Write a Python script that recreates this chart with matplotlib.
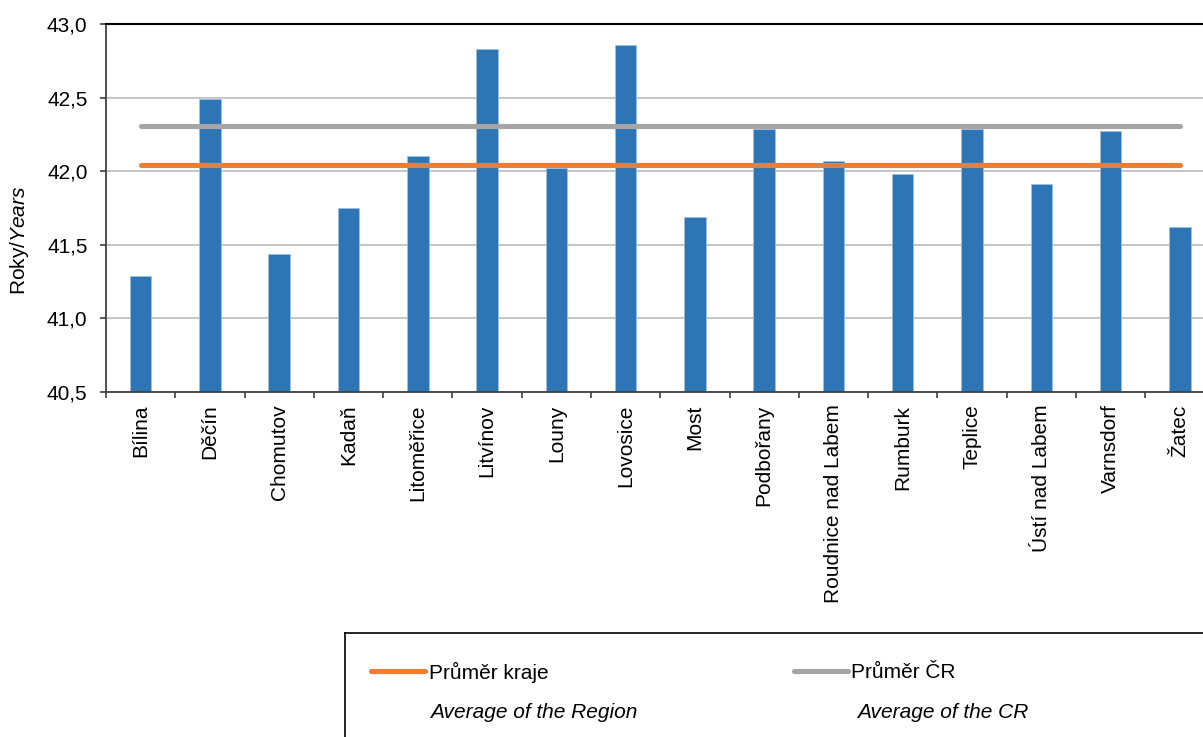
import matplotlib
matplotlib.use("Agg")
import matplotlib.pyplot as plt
from matplotlib.lines import Line2D
import numpy as np

plt.rcParams['font.family'] = ['Liberation Sans', 'DejaVu Sans']
plt.rcParams['mathtext.fontset'] = 'custom'
plt.rcParams['mathtext.rm'] = 'Liberation Sans'
plt.rcParams['mathtext.it'] = 'Liberation Sans:italic'

categories = ["Bílina", "Děčín", "Chomutov", "Kadaň", "Litoměřice", "Litvínov", "Louny",
              "Lovosice", "Most", "Podbořany", "Roudnice nad Labem", "Rumburk", "Teplice",
              "Ústí nad Labem", "Varnsdorf", "Žatec"]
values = [41.29, 42.49, 41.44, 41.75, 42.10, 42.83, 42.02, 42.86, 41.69, 42.29, 42.07,
          41.98, 42.29, 41.91, 42.27, 41.62]
region_avg = 42.04
cr_avg = 42.31
yticks = [40.5, 41.0, 41.5, 42.0, 42.5, 43.0]
ytick_labels = ["40,5", "41,0", "41,5", "42,0", "42,5", "43,0"]

FS = 15
W, H = 1203, 737
fig = plt.figure(figsize=(W / 100, H / 100), dpi=100)
L, R, T, B = 106, 1214.5, 24, 392
ax = fig.add_axes([L / W, 1 - B / H, (R - L) / W, (B - T) / H])

x = np.arange(len(categories))
ax.bar(x, values, width=0.31, bottom=0, color='#2E75B6', edgecolor='#9DC3E6', linewidth=0.5, zorder=2)
ax.plot(x, [region_avg] * len(x), color='#ED7D31', lw=3.7, solid_capstyle='round', zorder=3)
ax.plot(x, [cr_avg] * len(x), color='#A5A5A5', lw=3.7, solid_capstyle='round', zorder=3)

ax.set_xlim(-0.5, len(categories) - 0.5)
ax.set_ylim(40.5, 43.0)
ax.set_yticks(yticks)
ax.set_yticklabels(ytick_labels, fontsize=FS)
ax.yaxis.grid(True, color='#C0C0C0', lw=1.3, zorder=0)
ax.set_axisbelow(True)

ax.set_xticks(x)
ax.set_xticklabels(categories, rotation=90, fontsize=FS)
ax.set_xticks(np.arange(len(categories) + 1) - 0.5, minor=True)
ax.tick_params(axis='x', which='major', length=0, pad=9)
ax.tick_params(axis='x', which='minor', length=4.3, color='#404040', width=1.2)
ax.tick_params(axis='y', length=4.3, color='#404040', width=1.2, pad=9)

for s in ['left', 'bottom']:
    ax.spines[s].set_color('#404040')
    ax.spines[s].set_linewidth(1.3)
ax.spines['top'].set_color('black')
ax.spines['top'].set_linewidth(1.5)
ax.spines['right'].set_visible(False)

fig.text(20 / W, 1 - 240 / H, r'Roky/$\mathit{Years}$', rotation=90, ha='center', va='center', fontsize=FS)

# legend box
def fx(px):
    return px / W
def fy(py):
    return 1 - py / H

box_l, box_t = 345, 633
fig.add_artist(Line2D([fx(box_l), fx(box_l)], [fy(box_t), fy(740)], color='black', lw=1.2))
fig.add_artist(Line2D([fx(box_l), fx(1210)], [fy(box_t), fy(box_t)], color='black', lw=1.2))

fig.add_artist(Line2D([fx(371), fx(425)], [fy(671), fy(671)], color='#ED7D31', lw=3.7, solid_capstyle='round'))
fig.add_artist(Line2D([fx(794), fx(848)], [fy(671), fy(671)], color='#A5A5A5', lw=3.7, solid_capstyle='round'))
fig.text(fx(429), fy(672), "Průměr kraje", fontsize=FS, va='center', ha='left')
fig.text(fx(851), fy(672), "Průměr ČR", fontsize=FS, va='center', ha='left')
fig.text(fx(430), fy(713), "Average of the Region", fontsize=FS, va='center', ha='left', style='italic')
fig.text(fx(857), fy(713), "Average of the CR", fontsize=FS, va='center', ha='left', style='italic')

fig.savefig("out.png", dpi=100)
